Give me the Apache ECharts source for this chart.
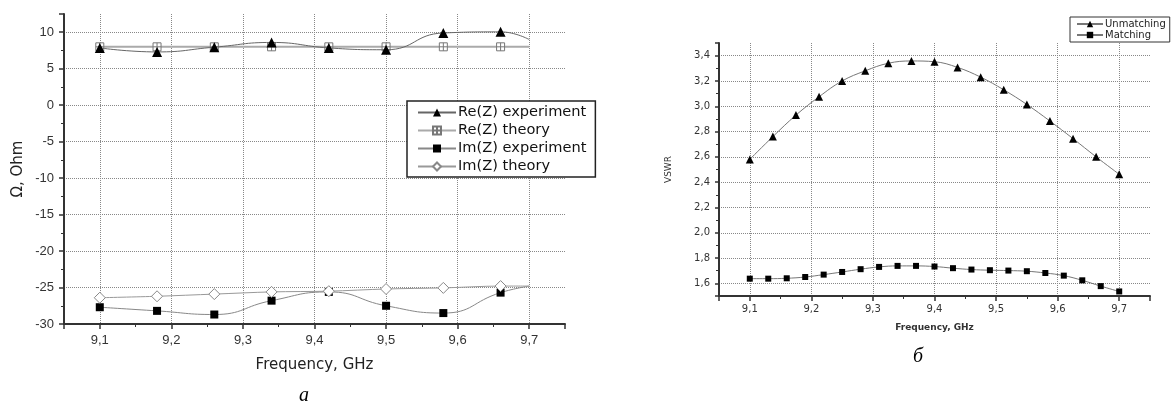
<!DOCTYPE html>
<html>
<head>
<meta charset="utf-8">
<script src="https://cdn.jsdelivr.net/npm/echarts@6/dist/echarts.min.js"></script>
<style>
  html, body { margin: 0; padding: 0; background: #fff; }
  #chart { width: 1171px; height: 409px; }
</style>
</head>
<body>
<div id="chart"></div>
<script>
// левый график (а): импеданс
const freqA = [9.10, 9.18, 9.26, 9.34, 9.42, 9.50, 9.58, 9.66, 9.70];
const reExp = [7.85, 7.3, 7.95, 8.6, 7.85, 7.6, 9.9, 10.05, 9.0];
const reTheory = [8, 8, 8, 8, 8, 8, 8, 8, 8];
const imExp = [-27.7, -28.2, -28.7, -26.8, -25.6, -27.5, -28.5, -25.7, -24.8];
const imTheory = [-26.4, -26.2, -25.9, -25.6, -25.5, -25.2, -25.05, -24.8, -24.8];

// правый график (б): КСВН
const freqUnmatch = [9.1, 9.1375, 9.175, 9.2125, 9.25, 9.2875, 9.325, 9.3625, 9.4,
  9.4375, 9.475, 9.5125, 9.55, 9.5875, 9.625, 9.6625, 9.7];
const vswrUnmatch = [2.58, 2.76, 2.93, 3.075, 3.2, 3.28, 3.34, 3.358, 3.352,
  3.307, 3.23, 3.13, 3.014, 2.883, 2.744, 2.6, 2.462];
const freqMatch = [9.10, 9.13, 9.16, 9.19, 9.22, 9.25, 9.28, 9.31, 9.34, 9.37, 9.40,
  9.43, 9.46, 9.49, 9.52, 9.55, 9.58, 9.61, 9.64, 9.67, 9.70];
const vswrMatch = [1.637, 1.637, 1.64, 1.65, 1.669, 1.69, 1.712, 1.73, 1.738, 1.738, 1.733,
  1.72, 1.709, 1.704, 1.701, 1.696, 1.682, 1.661, 1.624, 1.578, 1.536];

const FONT = 'Liberation Sans';
const WIDE = 'DejaVu Sans';

// последняя точка 9.7 на левом графике без маркера
const pairs = (xs, ys, lastBare) => xs.map((x, i) => {
  if (lastBare && i === xs.length - 1) return { value: [x, ys[i]], symbol: 'none' };
  return [x, ys[i]];
});

const comma = v => v.toFixed(1).replace('.', ',');

const xAxisBase = (grid, font, fs, margin) => ({
  type: 'value', gridIndex: grid, min: 9.05, max: 9.75, splitNumber: 7,
  axisLine: { onZero: false, lineStyle: { color: '#333', width: 2 } },
  axisTick: { length: 5, lineStyle: { color: '#333', width: 1.5 } },
  minorTick: { show: true, splitNumber: 2, length: 3, lineStyle: { color: '#333' } },
  splitLine: { show: true, showMinLine: false, showMaxLine: false,
    lineStyle: { type: 'dotted', color: '#888' } },
  axisLabel: { showMinLabel: false, showMaxLabel: false, fontFamily: font, fontSize: fs,
    color: '#333', margin: margin, formatter: comma },
  nameLocation: 'middle'
});

const option = {
  animation: false,
  backgroundColor: '#fff',
  grid: [
    { left: 64, right: 606, top: 14, bottom: 85 },
    { left: 719, right: 21, top: 43, bottom: 113 }
  ],
  xAxis: [
    Object.assign(xAxisBase(0, FONT, 13, 10), {
      name: 'Frequency, GHz', nameGap: 34,
      nameTextStyle: { fontFamily: WIDE, fontSize: 15, color: '#222' }
    }),
    Object.assign(xAxisBase(1, WIDE, 10, 8), {
      name: 'Frequency, GHz', nameGap: 27,
      nameTextStyle: { fontFamily: WIDE, fontSize: 9, fontWeight: 'bold', color: '#333' }
    })
  ],
  yAxis: [
    {
      type: 'value', gridIndex: 0, min: -30, max: 12.5, interval: 5,
      axisLine: { show: true, onZero: false, lineStyle: { color: '#333', width: 2 } },
      axisTick: { show: true, length: 5, lineStyle: { color: '#333', width: 1.5 } },
      minorTick: { show: true, splitNumber: 2, length: 3, lineStyle: { color: '#333' } },
      splitLine: { show: true, showMinLine: false, showMaxLine: false,
        lineStyle: { type: 'dotted', color: '#888' } },
      axisLabel: { showMaxLabel: false, fontFamily: FONT, fontSize: 13, color: '#333', margin: 10 },
      name: 'Ω, Ohm', nameLocation: 'middle', nameGap: 38,
      nameTextStyle: { fontFamily: WIDE, fontSize: 15, color: '#222' }
    },
    {
      type: 'value', gridIndex: 1, min: 1.5, max: 3.5, splitNumber: 10,
      axisLine: { show: true, onZero: false, lineStyle: { color: '#333', width: 2 } },
      axisTick: { show: true, length: 4, lineStyle: { color: '#333', width: 1.5 } },
      minorTick: { show: true, splitNumber: 2, length: 3, lineStyle: { color: '#333' } },
      splitLine: { show: true, showMinLine: false, showMaxLine: false,
        lineStyle: { type: 'dotted', color: '#888' } },
      axisLabel: { showMinLabel: false, showMaxLabel: false, fontFamily: WIDE, fontSize: 10,
        color: '#333', margin: 9, formatter: comma },
      name: 'VSWR', nameLocation: 'middle', nameGap: 46,
      nameTextStyle: { fontFamily: WIDE, fontSize: 9, color: '#333' }
    }
  ],
  legend: [
    {
      left: 407, top: 101, orient: 'vertical',
      borderColor: '#222', borderWidth: 1.5, backgroundColor: '#fff',
      padding: [4, 9, 3, 10], itemGap: 3, itemWidth: 38, itemHeight: 10,
      textStyle: { fontFamily: WIDE, fontSize: 14.6, color: '#111', padding: [0, 0, 0, -3] },
      data: ['Re(Z) experiment', 'Re(Z) theory', 'Im(Z) experiment', 'Im(Z) theory']
    },
    {
      left: 1070, top: 17, orient: 'vertical',
      borderColor: '#333', borderWidth: 1, backgroundColor: '#fff',
      padding: [2, 4, 2, 6], itemGap: 1, itemWidth: 26, itemHeight: 8,
      textStyle: { fontFamily: WIDE, fontSize: 10, color: '#222', padding: [0, 0, 0, -3] },
      data: ['Unmatching', 'Matching']
    }
  ],
  series: [
    {
      name: 'Re(Z) experiment', type: 'line', xAxisIndex: 0, yAxisIndex: 0, smooth: 0.5,
      data: pairs(freqA, reExp, true), symbol: 'triangle', symbolSize: 10,
      itemStyle: { color: '#000' }, lineStyle: { color: '#666', width: 1 }, z: 4
    },
    {
      name: 'Re(Z) theory', type: 'line', xAxisIndex: 0, yAxisIndex: 0,
      data: pairs(freqA, reTheory, true),
      symbol: 'path://M0,0H10V10H0Z M5,0V10 M0,5H10', symbolSize: 8,
      itemStyle: { color: '#fff', borderColor: '#777', borderWidth: 1 },
      lineStyle: { color: '#aaa', width: 2 }, z: 3
    },
    {
      name: 'Im(Z) experiment', type: 'line', xAxisIndex: 0, yAxisIndex: 0, smooth: 0.5,
      data: pairs(freqA, imExp, true), symbol: 'rect', symbolSize: 8,
      itemStyle: { color: '#000' }, lineStyle: { color: '#888', width: 1 }, z: 3
    },
    {
      name: 'Im(Z) theory', type: 'line', xAxisIndex: 0, yAxisIndex: 0, smooth: 0.3,
      data: pairs(freqA, imTheory, true), symbol: 'diamond', symbolSize: 11,
      itemStyle: { color: '#fff', borderColor: '#888', borderWidth: 1 },
      lineStyle: { color: '#999', width: 1 }, z: 4
    },
    {
      name: 'Unmatching', type: 'line', xAxisIndex: 1, yAxisIndex: 1, smooth: 0.4,
      data: pairs(freqUnmatch, vswrUnmatch, false), symbol: 'triangle', symbolSize: 8,
      itemStyle: { color: '#000' }, lineStyle: { color: '#777', width: 1 }
    },
    {
      name: 'Matching', type: 'line', xAxisIndex: 1, yAxisIndex: 1, smooth: 0.4,
      data: pairs(freqMatch, vswrMatch, false), symbol: 'rect', symbolSize: 6,
      itemStyle: { color: '#000' }, lineStyle: { color: '#777', width: 1 }
    }
  ],
  graphic: [
    { type: 'text', left: 299, top: 386,
      style: { text: 'a', font: 'italic 20px "Liberation Serif"', fill: '#000' } },
    { type: 'text', left: 913, top: 347,
      style: { text: 'б', font: 'italic 20px "Liberation Serif"', fill: '#000' } }
  ]
};

const chart = echarts.init(document.getElementById('chart'));
chart.setOption(option);
</script>
</body>
</html>
